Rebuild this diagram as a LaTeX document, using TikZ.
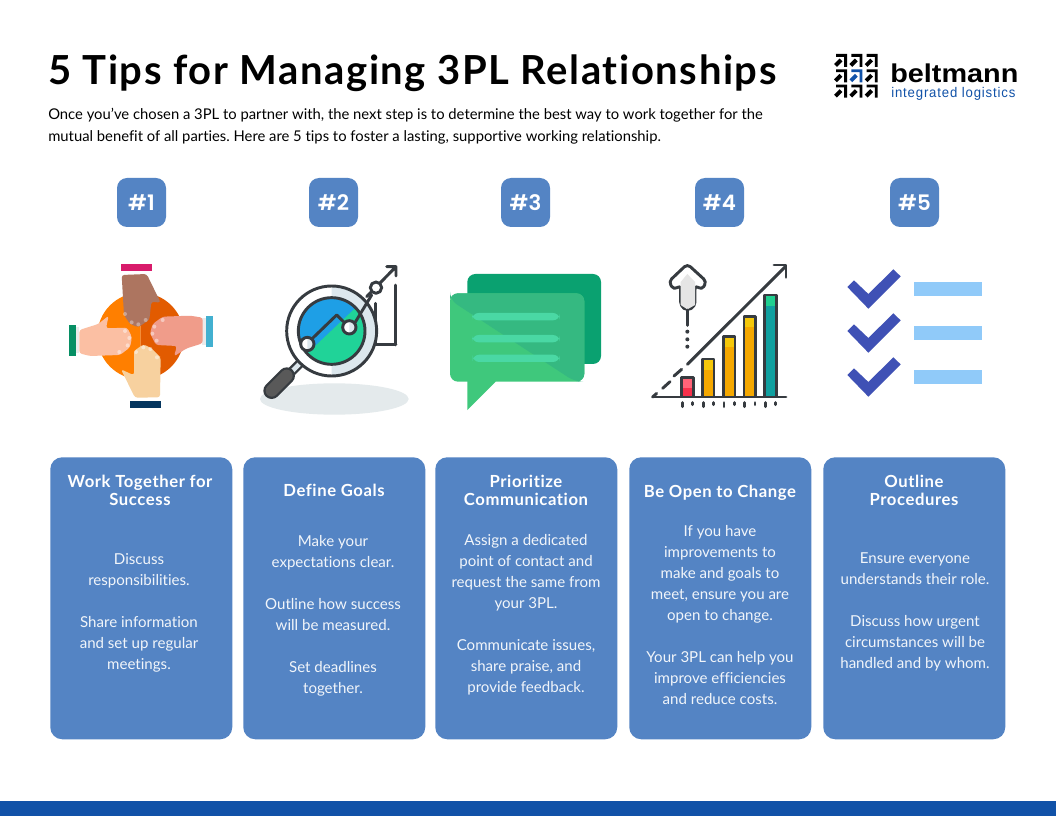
\documentclass[tikz,border=0pt]{standalone}
\usepackage{fontspec}
\setmainfont[Ligatures=NoCommon]{Lato}
\newfontfamily\titlefont[LetterSpace=4,Ligatures=NoCommon,BoldFont={Lato Bold}]{Lato}
\newfontfamily\headfont[LetterSpace=3.5,Ligatures=NoCommon,BoldFont={Lato Bold}]{Lato}
\newfontfamily\badgefont[BoldFont={Poppins SemiBold}]{Poppins}
\newfontfamily\logofont[FakeStretch=1.12]{Liberation Sans}
\newfontfamily\logosub[FakeStretch=.94,LetterSpace=6]{Liberation Sans}
\definecolor{cardblue}{HTML}{5484C4}
\definecolor{barblue}{HTML}{1152A8}
\definecolor{inkdark}{HTML}{363B40}
\definecolor{lensblue}{HTML}{1E9FE6}
\definecolor{lensgreen}{HTML}{20D398}
\definecolor{lenspale}{HTML}{DCE7ED}
\definecolor{shadowgray}{HTML}{E4EAEC}
\definecolor{orangeA}{HTML}{FF7F00}
\definecolor{orangeB}{HTML}{E25B00}
\definecolor{cuffpink}{HTML}{D81B6B}
\definecolor{cuffgreen}{HTML}{068F64}
\definecolor{cuffcyan}{HTML}{42B0D0}
\definecolor{cuffnavy}{HTML}{04355E}
\definecolor{handA}{HTML}{AD7560}
\definecolor{handB}{HTML}{FBBFA3}
\definecolor{handC}{HTML}{F09C8A}
\definecolor{handD}{HTML}{F7D19F}
\definecolor{bubbleback}{HTML}{0AA170}
\definecolor{bubblefront}{HTML}{3FC87C}
\definecolor{bubbleshade}{HTML}{35B981}
\definecolor{bubbleline}{HTML}{4AD8A4}
\definecolor{checkblue}{HTML}{3F51B5}
\definecolor{listblue}{HTML}{90CAF9}
\tikzset{
  card/.style={fill=cardblue,rounded corners=9pt,minimum width=136.5pt,minimum height=211.5pt,inner sep=0pt,anchor=north west},
  badge/.style={fill=cardblue,rounded corners=7.5pt,minimum size=36.75pt,inner sep=0pt,text=white,font=\badgefont\bfseries\fontsize{16}{18}\selectfont},
  headtext/.style={text=white,align=center,anchor=north,inner sep=0pt,font=\headfont\bfseries\fontsize{12.5}{13.5}\selectfont,execute at begin node=\strut},
  bodytext/.style={text=white!92!cardblue,align=center,anchor=north,inner sep=0pt,font=\fontsize{11.3}{15.75}\selectfont,execute at begin node=\strut},
  inkline/.style={draw=inkdark,line width=2.2pt,line cap=round,line join=round},
}
\begin{document}
\frenchspacing
\begin{tikzpicture}[x=.75pt,y=-.75pt]
  \useasboundingbox (0,0) rectangle (1056,816);
  \fill[white] (0,0) rectangle (1056,816);
  \fill[barblue] (0,801) rectangle (1056,816);
  \node[anchor=base west,inner sep=0pt,font=\titlefont\bfseries\fontsize{30}{34}\selectfont] (title) at (48,85) {5 Tips for Managing 3PL Relationships};
  \node[anchor=north west,align=left,inner sep=0pt,font=\fontsize{11.1}{16.5}\selectfont,execute at begin node=\strut] (intro) at (48,108) {Once you’ve chosen a 3PL to partner with, the next step is to determine the best way to work together for the\\mutual benefit of all parties. Here are 5 tips to foster a lasting, supportive working relationship.};
  % logo
  \foreach \i in {0,1,2}{
    \foreach \j in {0,1,2}{
      \pgfmathsetmacro{\cx}{834+15.3*\i}
      \pgfmathsetmacro{\cy}{54+15.3*\j}
      \ifnum\i\j=11 \def\logocol{barblue}\else\def\logocol{black}\fi
      \fill[\logocol] (\cx+2,\cy) -- ++(11,0) -- ++(0,13) -- ++(-2.8,0) -- ++(0,-10.2) -- ++(-8.2,0) -- cycle;
      \draw[\logocol,line width=3pt] (\cx+1.5,\cy+11.5) -- ++(5.5,-5.5);
    }
  }
  \node[anchor=base west,inner sep=0pt,font=\logofont\bfseries\fontsize{19.3}{20}\selectfont] (logoname) at (890,83) {beltmann};
  \node[anchor=base west,inner sep=0pt,text=barblue,font=\logosub\fontsize{10.5}{12}\selectfont] (logosub) at (891,98) {integrated logistics};
  % badges
  \foreach \n/\x in {1/141.5,2/333.5,3/525.5,4/719.5,5/914.5}{
    \node[badge] (badge\n) at (\x,202.5) {\#\n};
  }
  % cards
  \foreach \n/\x in {1/50,2/243,3/435,4/629,5/823}{
    \node[card] (card\n) at (\x,457) {};
  }
  \node[headtext] (head1) at (140,475) {Work Together for\\Success};
  \node[headtext] (head2) at (334,484) {Define Goals};
  \node[headtext] (head3) at (526,475) {Prioritize\\Communication};
  \node[headtext] (head4) at (720,485) {Be Open to Change};
  \node[headtext] (head5) at (914,475) {Outline\\Procedures};
  \node[bodytext] (body1) at (139,553) {Discuss\\responsibilities.\\[15.75pt]Share information\\and set up regular\\meetings.};
  \node[bodytext] (body2) at (333,535) {Make your\\expectations clear.\\[15.75pt]Outline how success\\will be measured.\\[15.75pt]Set deadlines\\together.};
  \node[bodytext] (body3) at (526,534) {Assign a dedicated\\point of contact and\\request the same from\\your 3PL.\\[15.75pt]Communicate issues,\\share praise, and\\provide feedback.};
  \node[bodytext] (body4) at (720,525) {If you have\\improvements to\\make and goals to\\meet, ensure you are\\open to change.\\[15.75pt]Your 3PL can help you\\improve efficiencies\\and reduce costs.};
  \node[bodytext] (body5) at (915,552) {Ensure everyone\\understands their role.\\[15.75pt]Discuss how urgent\\circumstances will be\\handled and by whom.};
  % hands
  \begin{scope}[shift={(30,250)},x=.25pt,y=-.25pt]
    \fill[orangeA] (332,128) arc (-90:-270:130);
    \fill[orangeB] (332,128) arc (-90:90:130);
    \fill[cuffpink] (273,42) rectangle (365,62);
    \fill[cuffgreen] (117,225) rectangle (138,318);
    \fill[cuffcyan] (527,198) rectangle (549,291);
    \fill[cuffnavy] (300,453) rectangle (392,473);
    \fill[black!8] (138,232) rectangle (148,310);
    \fill[black!8] (517,205) rectangle (527,285);
    \fill[handA,rounded corners=2pt] (275,75) -- (350,72) -- (392,158) -- (364,155) -- (358,210) -- (345,218) -- (325,232) -- (300,222) -- (282,195) -- cycle;
    \fill[handB,rounded corners=2pt] (148,240) -- (205,222) -- (236,197) -- (228,235) -- (292,233) -- (306,262) -- (300,292) -- (270,315) -- (180,318) -- (148,310) -- cycle;
    \fill[handC,rounded corners=2pt] (518,203) -- (518,280) -- (470,295) -- (432,319) -- (441,288) -- (378,285) -- (360,250) -- (368,222) -- (398,200) -- (480,197) -- cycle;
    \fill[handD,rounded corners=2pt] (392,322) -- (390,442) -- (315,443) -- (273,358) -- (312,376) -- (312,303) -- (340,283) -- (365,295) -- (385,316) -- cycle;
    \foreach \x/\y in {285/192,305/217,325/223,347/210}{\fill[white,opacity=.35] (\x,\y) circle (6);}
    \foreach \x/\y in {285/243,298/264,293/286,268/306}{\fill[white,opacity=.45] (\x,\y) circle (6);}
    \foreach \x/\y in {398/210,373/230,367/251,380/272}{\fill[white,opacity=.45] (\x,\y) circle (6);}
    \foreach \x/\y in {318/306,340/292,361/297,381/322}{\fill[white,opacity=.45] (\x,\y) circle (6);}
  \end{scope}
  % magnifier
  \begin{scope}[shift={(30,250)},x=.25pt,y=-.25pt]
    \fill[shadowgray] (913,447) ellipse [x radius=223,y radius=47];
    \draw[inkline] (1097,105) -- (1097,285) (1037,160) -- (1037,283) -- (1098,283);
    \draw[inkline] (1010,140) -- (1098,50) (1070,50) -- (1098,50) -- (1098,78);
    \draw[inkline,fill=white] (1038,113) circle (17);
    \draw[draw=inkdark,line width=7pt] (825,325) -- (785,365);
    \draw[draw=lenspale,line width=3.5pt] (825,325) -- (785,365);
    \draw[draw=inkdark,line width=12.5pt,line cap=round] (770,377) -- (725,422);
    \draw[draw=black!65,line width=9pt,line cap=round] (770,377) -- (725,422);
    \fill[white] (905,243) circle (135);
    \fill[lenspale] (905,108) arc (-90:90:135);
    \draw[inkline] (905,243) circle (135);
    \begin{scope}
      \clip (905,243) circle (100);
      \fill[lensblue] (780,120) rectangle (1020,360);
      \fill[lensgreen] (830,312) -- (975,175) -- (1020,175) -- (1020,360) -- (830,360) -- cycle;
    \end{scope}
    \draw[inkline] (905,243) circle (100);
    \draw[inkline] (832,280) -- (920,195) -- (958,232);
    \draw[inkline] (975,218) -- (1025,135);
    \fill[white] (832,282) circle (20);
    \fill[lenspale] (832,262) arc (-90:90:20);
    \draw[inkline] (832,282) circle (20);
    \fill[white] (958,232) circle (20);
    \fill[lenspale] (958,212) arc (-90:90:20);
    \draw[inkline] (958,232) circle (20);
  \end{scope}
  % speech bubbles
  \begin{scope}[shift={(430,250)},x=.25pt,y=-.25pt]
    \fill[bubbleback,rounded corners=6pt] (112,72) rectangle (513,342);
    \fill[bubblefront,rounded corners=6pt] (60,130) rectangle (463,395);
    \fill[bubblefront] (112,390) -- (112,480) -- (197,395) -- (197,390) -- cycle;
    \fill[bubbleshade,rounded corners=6pt] (60,150) -- (60,130) -- (463,130) -- (463,395) -- (435,395) -- cycle;
    \foreach \y/\x in {189/126,255/126,314/128}{
      \fill[bubbleline,rounded corners=5pt] (\x,\y) rectangle (389,\y+22);
    }
  \end{scope}
  % growth chart
  \begin{scope}[shift={(430,250)},x=.25pt,y=-.25pt]
    \foreach \x/\y/\colA/\colB in {755/383/F7304A/FF6478,817/327/F5A800/F5C80A,880/260/F5A800/F5C80A,942/200/F5A800/F5C80A,1004/135/10A0A0/20CF90}{
      \definecolor{barcol}{HTML}{\colA}\definecolor{barcap}{HTML}{\colB}
      \fill[barcol] (\x,\y) rectangle (\x+35,438);
      \fill[barcap] (\x,\y) rectangle (\x+35,\y+32);
      \draw[inkline] (\x,438) -- (\x,\y) -- (\x+35,\y) -- (\x+35,438);
    }
    \draw[inkline] (668,441) -- (1068,441);
    \draw[inkline] (680,430) -- (668,441);
    \draw[inkline] (698,415) -- (720,395) (732,378) -- (755,358) (772,343) -- (1066,50);
    \draw[inkline] (1032,45) -- (1068,45) -- (1068,82);
    \foreach \x in {757,820,882,944,1007}{\draw[inkline] (\x,458) -- (\x,470);}
    \foreach \x in {788,851,913,975,1037}{\draw[inkline] (\x,458) -- (\x,464);}
    \draw[inkline,fill=white,rounded corners=3pt] (772,42) -- (830,95) -- (815,120) -- (795,105) -- (795,168) -- (772,182) -- (752,168) -- (752,105) -- (732,120) -- (716,95) -- cycle;
    \fill[black!10] (772,72) -- (795,96) -- (795,165) -- (772,178) -- (752,165) -- (752,96) -- cycle;
    \draw[inkline] (772,180) -- (772,226);
    \foreach \y in {245,268,290}{\fill[inkdark] (772,\y) circle (6);}
  \end{scope}
  % checklist
  \begin{scope}[shift={(830,255)},x=.25pt,y=-.25pt]
    \foreach \d in {0,132,264}{
      \fill[checkblue] (52,96+\d) -- (72,76+\d) -- (115,117+\d) -- (190,43+\d) -- (212,64+\d) -- (115,161+\d) -- cycle;
      \fill[listblue] (253,81+\d) rectangle (457,122+\d);
    }
  \end{scope}
\end{tikzpicture}
\end{document}
